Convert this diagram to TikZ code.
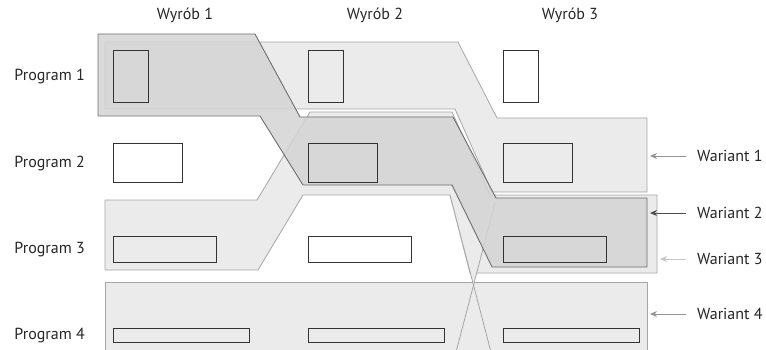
\documentclass[tikz,border=0pt]{standalone}
\usepackage{fontspec}
\setmainfont{PT Sans}
\usetikzlibrary{positioning, arrows.meta}

\begin{document}
\begin{tikzpicture}[
        x=1pt, y=-1pt,
        node distance=28pt,
        cell/.style={draw=black!80, line width=1.2pt, rectangle, inner sep=0pt, anchor=north west},
        row_label/.style={font=\fontsize{16}{19}\selectfont, text=black!85, inner sep=0pt},
        col_label/.style={font=\fontsize{16}{19}\selectfont, text=black!85, inner sep=0pt},
        variant_label/.style={font=\fontsize{16}{19}\selectfont, text=black!85, inner sep=0pt},
        light_band/.style={fill=gray!16, draw=gray!70, line width=0.8pt, line join=round},
        dark_band/.style={fill=gray!34, fill opacity=0.85, draw=black!57, line width=0.9pt, line join=round},
        light_line/.style={draw=gray!70, line width=0.8pt},
        arrow/.style={-{Stealth[length=7pt, width=6pt]}, line width=0.9pt, draw=gray!85}
    ]
        \useasboundingbox (0,0) rectangle (766,350);

        % Groups
        \draw [light_band] (105,282) -- (647,282) -- (647,356) -- (105,356) -- cycle;
        \draw [light_band] (105,200) -- (257,200) -- (310,112) -- (452,112) -- (490,195) -- (657,195) -- (657,273) -- (470,273) -- (450,195) -- (303,195) -- (258,270) -- (105,270) -- cycle;
        \draw [light_band] (105,42) -- (458,42) -- (497,118) -- (647,118) -- (647,192) -- (492,192) -- (455,109) -- (105,109) -- cycle;
        \fill [gray!16] (450,195) -- (492,356) -- (455,356) -- (495,203) -- cycle;
        \draw [light_line] (450,195) -- (492,356);
        \draw [light_line] (495,203) -- (455,356);
        \draw [dark_band] (98,34) -- (255,34) -- (300,117) -- (453,117) -- (496,198) -- (647,198) -- (647,267) -- (492,267) -- (452,185) -- (303,185) -- (260,116) -- (98,116) -- cycle;

        % Nodes
        \foreach \x/\n in {113/1, 308/2, 503/3} {
            \node (pa\n) [cell, minimum width=35pt, minimum height=52pt] at (\x,50) {};
            \node (pb\n) [cell, minimum width=69pt, minimum height=39pt] at (\x,143) {};
            \node (pc\n) [cell, minimum width=103pt, minimum height=26pt] at (\x,236) {};
            \node (pd\n) [cell, minimum width=136pt, minimum height=14pt] at (\x,328) {};
        }
        \node (prog1) [row_label, left=of pa1] {Program 1};
        \node (prog2) [row_label, left=of pb1] {Program 2};
        \node (prog3) [row_label, left=of pc1] {Program 3};
        \node (prog4) [row_label, left=of pd1] {Program 4};
        \node (wyr1) [col_label] at (185,15) {Wyrób 1};
        \node (wyr2) [col_label] at (375,15) {Wyrób 2};
        \node (wyr3) [col_label] at (570,15) {Wyrób 3};

        \coordinate (end1) at (650,156);
        \coordinate (end2) at (650,213);
        \coordinate (end3) at (660,259);
        \coordinate (end4) at (650,314);
        \node (war1) [variant_label, right=47pt of end1] {Wariant 1};
        \node (war2) [variant_label, right=47pt of end2] {Wariant 2};
        \node (war3) [variant_label, right=37pt of end3] {Wariant 3};
        \node (war4) [variant_label, right=47pt of end4] {Wariant 4};

        % Arrows
        \draw [arrow] ([xshift=-11pt]war1.west) -- (end1);
        \draw [arrow, draw=black!70] ([xshift=-11pt]war2.west) -- (end2);
        \draw [arrow, draw=gray!45] ([xshift=-11pt]war3.west) -- (end3);
        \draw [arrow] ([xshift=-11pt]war4.west) -- (end4);
    \end{tikzpicture}
\end{document}
